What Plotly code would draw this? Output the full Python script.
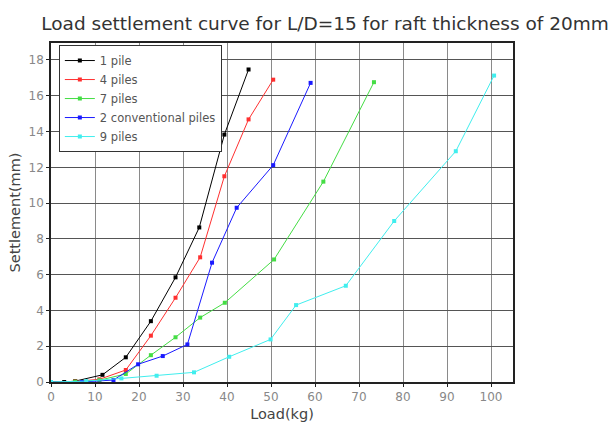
import plotly.graph_objects as go

# Data (Load in kg, Settlement in mm)
names = ["1 pile", "4 piles", "7 piles", "2 conventional piles", "9 piles"]
colors = ["#000000", "#ff3030", "#44dd44", "#1a1aff", "#40eeee"]

load_1 = [0, 3, 5.5, 11.7, 17, 22.7, 28.3, 33.7, 39.4, 44.9]
sett_1 = [0, 0, 0.05, 0.4, 1.38, 3.4, 5.85, 8.64, 13.83, 17.47]

load_4 = [0, 5.5, 11, 17, 22.7, 28.3, 33.9, 39.4, 44.9, 50.5]
sett_4 = [0, 0.03, 0.15, 0.67, 2.59, 4.71, 6.97, 11.5, 14.68, 16.9]

load_7 = [0, 5.5, 11, 17, 22.7, 28.3, 33.9, 39.5, 50.7, 61.9, 73.4]
sett_7 = [0, 0.02, 0.1, 0.45, 1.5, 2.5, 3.6, 4.43, 6.85, 11.2, 16.76]

load_2c = [0, 7, 14.2, 19.8, 25.4, 31, 36.6, 42.2, 50.5, 59]
sett_2c = [0, 0, 0.11, 0.99, 1.45, 2.1, 6.67, 9.74, 12.12, 16.72]

load_9 = [0, 8, 16, 24, 32.5, 40.5, 49.9, 55.7, 67, 78, 92, 100.7]
sett_9 = [0, 0.05, 0.2, 0.35, 0.54, 1.41, 2.38, 4.3, 5.38, 9.0, 12.9, 17.13]

x_ticks = [0, 10, 20, 30, 40, 50, 60, 70, 80, 90, 100]
y_ticks = [0, 2, 4, 6, 8, 10, 12, 14, 16, 18]

series = [(load_1, sett_1), (load_4, sett_4), (load_7, sett_7), (load_2c, sett_2c), (load_9, sett_9)]

fig = go.Figure()
for (xs, ys), nm, c in zip(series, names, colors):
    fig.add_trace(go.Scatter(
        x=xs, y=ys, name=nm, mode="lines+markers",
        line=dict(color=c, width=1),
        marker=dict(color=c, size=4, symbol="square"),
    ))

font_family = "DejaVu Sans, Verdana, sans-serif"
fig.update_layout(
    width=611, height=422,
    margin=dict(l=51, r=98, t=43, b=40),
    paper_bgcolor="white", plot_bgcolor="white",
    font=dict(family=font_family, color="#555555", size=11),
    title=dict(text="Load settlement curve for L/D=15 for raft thickness of 20mm",
               x=0.532, xanchor="center", y=0.945, yanchor="middle",
               font=dict(size=18.5, color="#333333", family=font_family)),
    showlegend=True,
    legend=dict(x=0.017, y=0.994, xanchor="left", yanchor="top",
                bgcolor="white", bordercolor="#333333", borderwidth=1,
                font=dict(size=11.5, color="#555555"),
                tracegroupgap=0, itemwidth=30),
)
fig.update_xaxes(
    range=[0, 105], tickvals=x_ticks, ticktext=[str(v) for v in x_ticks],
    showgrid=True, gridcolor="#8a8a8a", gridwidth=1,
    showline=True, linecolor="#222222", linewidth=1.5, mirror=True,
    ticks="outside", ticklen=3, tickcolor="#222222",
    zeroline=False, automargin=False,
    title=dict(text="Load(kg)", font=dict(size=14.5, color="#444444"), standoff=6),
    tickfont=dict(size=12, color="#888888"),
)
fig.update_yaxes(
    range=[0, 18.95], tickvals=y_ticks, ticktext=[str(v) for v in y_ticks],
    showgrid=True, gridcolor="#555555", gridwidth=1.2,
    showline=True, linecolor="#222222", linewidth=1.5, mirror=True,
    ticks="outside", ticklen=3, tickcolor="#222222",
    zeroline=False, automargin=False,
    title=dict(text="Settlement(mm)", font=dict(size=14.5, color="#444444"), standoff=4),
    tickfont=dict(size=12, color="#888888"),
)

fig.write_html("out.html")
